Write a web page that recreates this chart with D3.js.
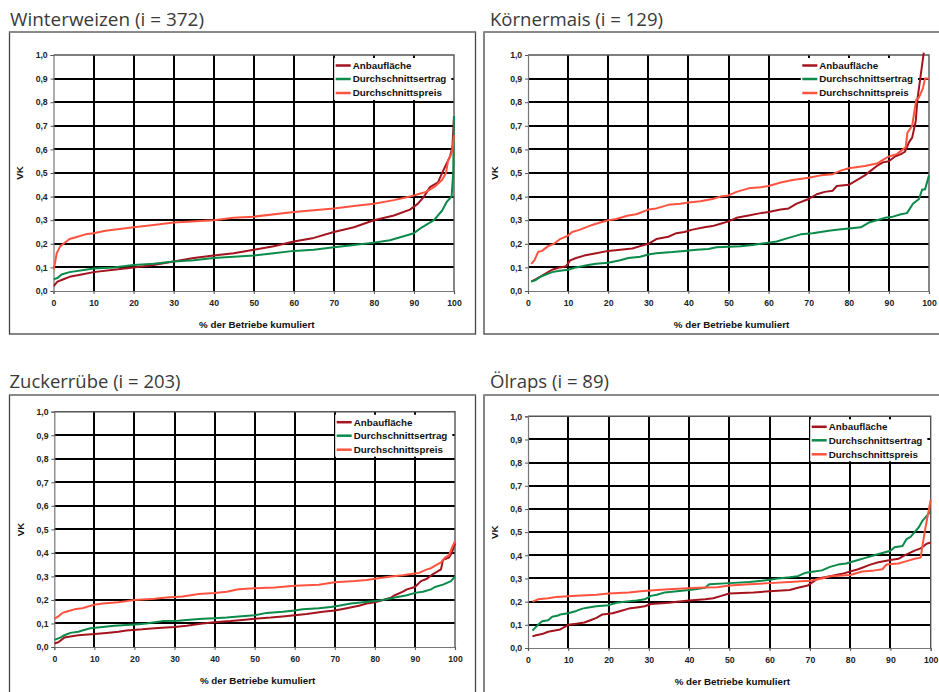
<!DOCTYPE html>
<html>
<head>
<meta charset="utf-8">
<script src="https://cdn.jsdelivr.net/npm/d3@7"></script>
<style>
  body { margin: 0; background: #fff; }
  .tick text { font-family: "Liberation Sans", Arial, sans-serif; font-weight: bold; font-size: 8.7px; fill: #222; }
  .axisText { font-family: "Liberation Sans", Arial, sans-serif; font-weight: bold; font-size: 9.8px; fill: #111; }
  .legendText { font-family: "Liberation Sans", Arial, sans-serif; font-weight: bold; font-size: 9.8px; fill: #111; }
  .panelTitle { font-family: "Open Sans", "Noto Sans", sans-serif; font-size: 19px; fill: #3a3a3a; }
</style>
</head>
<body>
<div id="chart"></div>
<script>
/********************************************************/
// Data: [% der Betriebe kumuliert, VK]
const titles = ["Winterweizen (i = 372)", "Körnermais (i = 129)", "Zuckerrübe (i = 203)", "Ölraps (i = 89)"];
const seriesNames = ["Anbaufläche", "Durchschnittsertrag", "Durchschnittspreis"];
const seriesColors = ["#a3141f", "#0b8a4a", "#ff5340"];
const xTicks = [0, 10, 20, 30, 40, 50, 60, 70, 80, 90, 100];
const yTicks = [0, 0.1, 0.2, 0.3, 0.4, 0.5, 0.6, 0.7, 0.8, 0.9, 1.0];
const yTickLabels = ["0,0", "0,1", "0,2", "0,3", "0,4", "0,5", "0,6", "0,7", "0,8", "0,9", "1,0"];

const weizenFlaeche = [[0,0.02],[0.5,0.03],[1,0.04],[2.5,0.05],[4,0.06],[7,0.07],[10,0.08],[15,0.09],[20,0.10],[25,0.11],[30,0.125],[35,0.14],[40,0.15],[45,0.16],[50,0.175],[55,0.19],[60,0.21],[65,0.225],[70,0.25],[75,0.27],[80,0.30],[85,0.32],[89,0.345],[91,0.37],[92.5,0.40],[94,0.44],[96,0.46],[97.3,0.51],[99,0.57],[99.6,0.61],[100,0.74]];
const weizenErtrag = [[0,0.05],[1,0.055],[2,0.07],[4,0.08],[8,0.09],[10,0.095],[15,0.10],[20,0.11],[25,0.115],[30,0.125],[35,0.13],[40,0.14],[45,0.145],[50,0.15],[55,0.16],[60,0.17],[65,0.175],[70,0.185],[75,0.195],[80,0.205],[84,0.215],[87,0.23],[90,0.245],[92,0.27],[95,0.30],[97,0.34],[98.2,0.378],[99.4,0.40],[99.8,0.5],[100,0.74]];
const weizenPreis = [[0,0.09],[0.4,0.12],[0.8,0.16],[1.7,0.19],[2.5,0.20],[4,0.22],[6,0.23],[8,0.24],[10,0.245],[13,0.255],[15,0.26],[20,0.27],[25,0.28],[30,0.29],[40,0.30],[45,0.31],[50,0.315],[60,0.335],[70,0.35],[75,0.36],[80,0.37],[85,0.385],[89,0.40],[91,0.41],[93,0.42],[95,0.44],[97,0.47],[98,0.50],[98.5,0.55],[99.3,0.58],[99.6,0.60],[100,0.66]];

const maisFlaeche = [[0.8,0.04],[2,0.05],[3,0.06],[5,0.08],[6,0.09],[8,0.10],[9.5,0.105],[10.5,0.13],[12,0.14],[14,0.15],[17,0.16],[20,0.17],[23,0.175],[26,0.18],[28,0.19],[30,0.20],[32,0.22],[35,0.23],[37,0.245],[39,0.25],[41,0.26],[44,0.27],[46,0.275],[48,0.285],[50,0.295],[52,0.31],[55,0.32],[58,0.33],[60,0.335],[63,0.345],[65,0.35],[67,0.37],[70,0.39],[72,0.41],[74,0.42],[76,0.425],[77,0.445],[80,0.45],[82,0.47],[84,0.49],[85.5,0.51],[87,0.53],[88.5,0.545],[90,0.55],[91.5,0.57],[93,0.58],[94,0.59],[95,0.63],[95.8,0.65],[96.7,0.72],[97.1,0.81],[97.9,0.91],[98.7,1.01]];
const maisErtrag = [[0.8,0.04],[1.8,0.045],[3,0.06],[4.5,0.07],[6,0.08],[7.5,0.085],[10,0.09],[12,0.10],[15,0.11],[17,0.115],[20,0.12],[23,0.13],[25,0.14],[28,0.145],[30,0.155],[32,0.16],[36,0.165],[39,0.17],[42,0.175],[45,0.178],[47,0.185],[50,0.188],[53,0.19],[56,0.195],[58,0.20],[60,0.205],[62,0.21],[65,0.225],[68,0.24],[71,0.245],[73,0.25],[75,0.255],[77,0.26],[80,0.265],[83,0.27],[85,0.29],[87,0.30],[89,0.31],[91,0.315],[93,0.325],[94.5,0.33],[96,0.37],[97.5,0.39],[98.3,0.43],[99,0.43],[100,0.49]];
const maisPreis = [[0.8,0.115],[1.6,0.13],[2.5,0.165],[3.5,0.17],[5,0.19],[6.5,0.20],[8,0.22],[10,0.235],[11,0.25],[13,0.26],[16,0.28],[18,0.29],[20,0.30],[22,0.305],[25,0.32],[27,0.325],[30,0.345],[32,0.35],[35,0.365],[38,0.37],[40,0.375],[43,0.38],[46,0.39],[48,0.40],[50,0.405],[52,0.42],[55,0.435],[58,0.44],[60,0.445],[63,0.46],[66,0.47],[70,0.48],[73,0.49],[76,0.495],[78,0.51],[80,0.52],[84,0.53],[87,0.54],[88,0.55],[90,0.57],[92,0.58],[93.5,0.60],[94.2,0.61],[94.6,0.67],[95.8,0.70],[96.8,0.81],[97.5,0.82],[98.5,0.86],[99,0.90],[100,0.90]];

const zuckerFlaeche = [[0,0.015],[1,0.02],[2.5,0.04],[4,0.045],[6,0.05],[10,0.055],[13,0.06],[16,0.065],[18,0.07],[22,0.075],[25,0.08],[30,0.085],[33,0.09],[37,0.10],[40,0.105],[44,0.11],[47,0.115],[50,0.12],[54,0.125],[57,0.13],[60,0.135],[63,0.14],[67,0.15],[70,0.155],[73,0.165],[76,0.175],[78,0.185],[80,0.19],[82,0.20],[84,0.21],[85,0.22],[87,0.235],[88,0.245],[90,0.255],[91.5,0.28],[93,0.29],[94.5,0.31],[96.5,0.33],[97,0.37],[98.5,0.38],[99.2,0.40],[100,0.44]];
const zuckerErtrag = [[0,0.03],[1.5,0.04],[2.5,0.05],[4,0.06],[6,0.065],[7,0.07],[9,0.08],[12,0.085],[15,0.09],[18,0.093],[21,0.097],[23,0.10],[25,0.105],[27,0.11],[31,0.112],[33,0.115],[37,0.12],[40,0.122],[43,0.125],[46,0.13],[50,0.135],[53,0.145],[57,0.15],[60,0.155],[62,0.16],[66,0.165],[69,0.17],[71,0.175],[74,0.185],[77,0.19],[80,0.195],[82,0.20],[85,0.21],[88,0.22],[90,0.23],[92,0.235],[94,0.245],[95,0.255],[97,0.265],[99,0.28],[100,0.30]];
const zuckerPreis = [[0,0.12],[1,0.13],[2,0.145],[3,0.15],[4,0.155],[5,0.16],[7,0.165],[8,0.17],[10,0.18],[12,0.185],[16,0.19],[18,0.195],[20,0.20],[25,0.205],[28,0.21],[32,0.215],[36,0.225],[40,0.23],[43,0.235],[46,0.245],[50,0.25],[55,0.253],[60,0.26],[66,0.265],[70,0.275],[75,0.28],[78,0.285],[80,0.29],[84,0.30],[87,0.305],[89,0.31],[91,0.315],[93,0.33],[94,0.335],[95.5,0.35],[96.5,0.36],[97.5,0.38],[98.5,0.39],[99.2,0.42],[100,0.45]];

const rapsFlaeche = [[1.1,0.05],[2,0.055],[3.5,0.06],[5,0.07],[8,0.08],[10,0.10],[12,0.105],[14,0.11],[15.5,0.12],[17,0.13],[18.5,0.145],[21,0.15],[23,0.16],[25,0.17],[27,0.175],[29,0.18],[30.5,0.19],[35,0.195],[37,0.20],[40,0.205],[44,0.21],[46,0.215],[48,0.225],[50,0.235],[56,0.24],[60,0.245],[65,0.25],[67,0.26],[69.5,0.27],[72,0.30],[75,0.31],[78,0.32],[80,0.33],[82,0.34],[85,0.36],[87,0.37],[90,0.38],[92,0.385],[93.5,0.40],[96,0.42],[97.5,0.43],[99,0.45],[100,0.455]];
const rapsErtrag = [[1.1,0.075],[2.5,0.10],[3.5,0.115],[5,0.12],[6,0.135],[7.5,0.14],[8,0.145],[10,0.15],[12,0.16],[13.5,0.17],[15,0.175],[17,0.18],[20,0.185],[22,0.195],[24,0.20],[27,0.205],[29,0.21],[30.5,0.225],[32,0.23],[34,0.24],[37,0.245],[40,0.25],[42,0.255],[44,0.26],[45,0.275],[50,0.28],[55,0.285],[58,0.29],[60,0.295],[62,0.30],[65,0.305],[67,0.31],[69,0.325],[71,0.33],[73,0.335],[75,0.35],[77,0.36],[79,0.365],[80,0.37],[82,0.38],[84,0.39],[86,0.40],[88,0.41],[90,0.42],[91,0.435],[93,0.44],[94,0.47],[95,0.48],[96,0.50],[97,0.52],[98,0.55],[99.5,0.58],[100,0.59]];
const rapsPreis = [[1.1,0.20],[2.5,0.21],[5,0.215],[7,0.22],[12,0.225],[17,0.23],[20,0.235],[25,0.24],[28,0.245],[32,0.25],[36,0.255],[42,0.26],[47,0.262],[50,0.27],[55,0.275],[60,0.28],[65,0.285],[70,0.29],[73,0.30],[75,0.31],[80,0.315],[83,0.33],[86,0.335],[88,0.34],[89,0.36],[92,0.365],[94,0.375],[96,0.385],[97.5,0.39],[98.5,0.50],[100,0.64]];
/********************************************************/
// Layout of the four panels
const panels = [
  { title: titles[0], data: [weizenFlaeche, weizenErtrag, weizenPreis],
    frame: { x: 9.5, y: 32, w: 466, h: 302 }, plot: { l: 53.5, r: 454, t: 55, b: 291 },
    titlePos: { x: 10, y: 25.5, w: 194 }, legendDx: -118.3 },
  { title: titles[1], data: [maisFlaeche, maisErtrag, maisPreis],
    frame: { x: 484, y: 32, w: 470, h: 302 }, plot: { l: 528, r: 929, t: 55, b: 291 },
    titlePos: { x: 490, y: 25.5, w: 173 }, legendDx: -126.7 },
  { title: titles[2], data: [zuckerFlaeche, zuckerErtrag, zuckerPreis],
    frame: { x: 9.5, y: 395, w: 466, h: 320 }, plot: { l: 54.3, r: 455, t: 411.7, b: 647 },
    titlePos: { x: 9.5, y: 387.7, w: 171 }, legendDx: -118.3 },
  { title: titles[3], data: [rapsFlaeche, rapsErtrag, rapsPreis],
    frame: { x: 484, y: 395, w: 470, h: 320 }, plot: { l: 528, r: 930.7, t: 416.3, b: 648 },
    titlePos: { x: 490, y: 387.7, w: 119 }, legendDx: -119 },
];
const legendRows = [10.5, 24, 38];
/********************************************************/
const svg = d3.select("#chart").append("svg").attr("width", 939).attr("height", 692);

panels.forEach(drawPanel);
/********************************************************/
function drawPanel(p, idx) {
  const g = svg.append("g");

  // outer frame
  g.append("rect")
    .attr("x", p.frame.x).attr("y", p.frame.y)
    .attr("width", p.frame.w).attr("height", p.frame.h)
    .attr("fill", "none").attr("stroke", "#444").attr("stroke-width", 1.3);
  g.append("line")
    .attr("x1", p.frame.x).attr("x2", p.frame.x + p.frame.w)
    .attr("y1", p.frame.y).attr("y2", p.frame.y)
    .attr("stroke", "#8a8a8a").attr("stroke-width", 2);

  g.append("text")
    .attr("class", "panelTitle")
    .attr("x", p.titlePos.x).attr("y", p.titlePos.y)
    .attr("textLength", p.titlePos.w).attr("lengthAdjust", "spacingAndGlyphs")
    .text(p.title);

  const x = d3.scaleLinear().domain([0, 100]).range([p.plot.l, p.plot.r]);
  const y = d3.scaleLinear().domain([0, 1]).range([p.plot.b, p.plot.t]);

  // grid lines
  g.append("g").selectAll("line")
    .data(yTicks.filter((d) => d > 0 && d < 1))
    .enter().append("line")
    .attr("x1", p.plot.l).attr("x2", p.plot.r)
    .attr("y1", (d) => Math.round(y(d))).attr("y2", (d) => Math.round(y(d)))
    .attr("stroke", "#000").attr("stroke-width", 2);
  g.append("g").selectAll("line")
    .data(xTicks.filter((d) => d > 0 && d < 100))
    .enter().append("line")
    .attr("y1", p.plot.t).attr("y2", p.plot.b)
    .attr("x1", (d) => Math.round(x(d))).attr("x2", (d) => Math.round(x(d)))
    .attr("stroke", "#000").attr("stroke-width", 2);

  // plot border top / right
  g.append("path")
    .attr("d", `M${p.plot.l},${p.plot.t}H${p.plot.r}V${p.plot.b}`)
    .attr("fill", "none").attr("stroke", "#555").attr("stroke-width", 1.4);

  // axes
  const leftAxis = d3.axisLeft(y).tickValues(yTicks)
    .tickFormat((d, i) => yTickLabels[i]).tickSizeOuter(0).tickSize(3).tickPadding(2.8);
  const bottomAxis = d3.axisBottom(x).tickValues(xTicks).tickSizeOuter(0).tickSize(3).tickPadding(5.5);
  const ya = g.append("g").attr("transform", `translate(${p.plot.l},0)`).call(leftAxis);
  const xa = g.append("g").attr("transform", `translate(0,${p.plot.b})`).call(bottomAxis);
  [ya, xa].forEach((a) => {
    a.select(".domain").attr("stroke", "#777").attr("stroke-width", 1.2);
    a.selectAll(".tick line").attr("stroke", "#555");
    a.attr("font-family", null).attr("font-size", null);
  });

  g.append("text")
    .attr("class", "axisText")
    .attr("text-anchor", "middle")
    .attr("x", (p.plot.l + p.plot.r) / 2 + 3)
    .attr("y", p.plot.b + 37)
    .text("% der Betriebe kumuliert");
  g.append("text")
    .attr("class", "axisText")
    .attr("text-anchor", "middle")
    .attr("dy", "0.35em")
    .attr("transform", `translate(${p.plot.l - 33.5},${(p.plot.t + p.plot.b) / 2}) rotate(-90)`)
    .text("VK");

  // legend (white box inside plot)
  const lx = p.plot.r + p.legendDx;
  const lg = g.append("g");
  const box = lg.append("rect").attr("fill", "#fff");
  let maxW = 0;
  seriesNames.forEach((name, i) => {
    const ly = p.plot.t + legendRows[i];
    lg.append("line")
      .attr("x1", lx).attr("x2", lx + 15).attr("y1", ly).attr("y2", ly)
      .attr("stroke", seriesColors[i]).attr("stroke-width", 2.5);
    const t = lg.append("text")
      .attr("class", "legendText")
      .attr("x", lx + 17).attr("y", ly).attr("dy", "0.35em")
      .text(name);
    maxW = Math.max(maxW, t.node().getComputedTextLength());
  });
  box.attr("x", lx - 1.5).attr("y", p.plot.t + 3)
    .attr("width", 17 + maxW + 6.5).attr("height", 42);

  // series lines
  const clipId = "clip" + idx;
  g.append("clipPath").attr("id", clipId).append("rect")
    .attr("x", p.plot.l).attr("y", p.plot.t - 3)
    .attr("width", p.plot.r - p.plot.l + 2).attr("height", p.plot.b - p.plot.t + 3);
  const line = d3.line().x((d) => x(d[0])).y((d) => y(d[1]));
  g.append("g").attr("clip-path", `url(#${clipId})`)
    .selectAll("path")
    .data(p.data)
    .enter().append("path")
    .attr("d", line)
    .attr("fill", "none")
    .attr("stroke", (d, i) => seriesColors[i])
    .attr("stroke-width", 2)
    .attr("stroke-linejoin", "round");
}
</script>
</body>
</html>
